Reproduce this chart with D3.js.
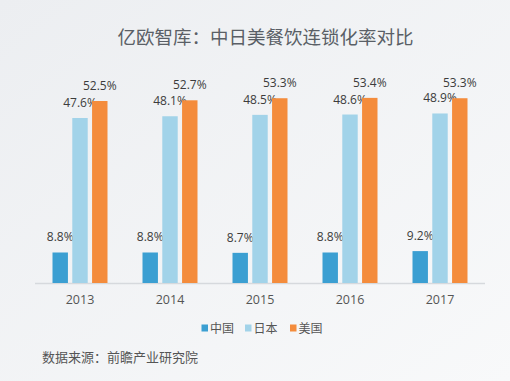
<!DOCTYPE html>
<html><head><meta charset="utf-8">
<script src="https://cdn.jsdelivr.net/npm/d3@7"></script>
<style>html,body{margin:0;padding:0;}svg{display:block;}</style>
</head><body>
<svg id="c" width="510" height="381"></svg>
<script>
const years = ["2013","2014","2015","2016","2017"];
const seriesNames = ["中国","日本","美国"];
const china = [8.8, 8.8, 8.7, 8.8, 9.2];
const japan = [47.6, 48.1, 48.5, 48.6, 48.9];
const usa = [52.5, 52.7, 53.3, 53.4, 53.3];
const colors = ["#3b9fd2", "#a2d3e9", "#f48c3c"];
const title = "亿欧智库：中日美餐饮连锁化率对比";
const source = "数据来源：前瞻产业研究院";

const series = [china, japan, usa];
const font = "'Noto Sans CJK SC','Noto Sans',sans-serif";
const numFont = "'Open Sans','Noto Sans',sans-serif";
const svg = d3.select("#c");

const defs = svg.append("defs");
const g = defs.append("linearGradient").attr("id","bg").attr("x1","0").attr("y1","0").attr("x2","1").attr("y2","1");
g.append("stop").attr("offset","0").attr("stop-color","#eceef1");
g.append("stop").attr("offset","1").attr("stop-color","#f8f9fa");
svg.append("rect").attr("width",510).attr("height",381).attr("fill","url(#bg)");

svg.append("text").attr("x",265.5).attr("y",44).attr("text-anchor","middle")
  .attr("font-family",font).attr("font-size",18.5).attr("fill","#5a5f66").text(title);

const left = 35, right = 485, base = 283;
const x0 = d3.scaleBand().domain(years).range([left,right]).paddingInner(0).paddingOuter(0);
const x1 = d3.scaleBand().domain(seriesNames).range([x0.bandwidth()/2-27.5, x0.bandwidth()/2+27.5]).paddingInner(0.22).paddingOuter(0);
const y = d3.scaleLinear().domain([0,60]).range([base, base-208]);

svg.append("line").attr("x1",left).attr("x2",right).attr("y1",base+0.5).attr("y2",base+0.5)
  .attr("stroke","#d6d9dd").attr("stroke-width",1.5);

const groups = svg.selectAll("g.yr").data(years).join("g").attr("class","yr")
  .attr("transform",d=>`translate(${x0(d)},0)`);

seriesNames.forEach((s,si)=>{
  groups.append("rect")
    .attr("x",x1(s)).attr("width",x1.bandwidth())
    .attr("y",(d,i)=>y(series[si][i])).attr("height",(d,i)=>base-y(series[si][i]))
    .attr("fill",colors[si]);
  groups.append("text")
    .attr("x",x1(s)+x1.bandwidth()/2).attr("y",(d,i)=>y(series[si][i])-11)
    .attr("text-anchor","middle").attr("font-family",numFont).attr("font-size",12)
    .attr("fill","#3c3c3c").text((d,i)=>series[si][i].toFixed(1)+"%");
});

const xAxis = d3.axisBottom(x0).tickSize(0).tickPadding(0);
const ax = svg.append("g").attr("transform",`translate(0,${base})`).call(xAxis);
ax.select(".domain").remove();
ax.selectAll("text").attr("dy",null).attr("y",21).attr("font-family",numFont).attr("font-size",12.5).attr("fill","#555");

const legendX = [201.5, 245, 290];
const lg = svg.selectAll("g.lg").data(seriesNames).join("g").attr("class","lg")
  .attr("transform",(d,i)=>`translate(${legendX[i]},328)`);
lg.append("rect").attr("x",0).attr("y",-3.5).attr("width",6.5).attr("height",7).attr("fill",(d,i)=>colors[i]);
lg.append("text").attr("x",8.5).attr("y",4.5).attr("font-family",font).attr("font-size",12)
  .attr("fill","#555").text(d=>d);

svg.append("text").attr("x",42).attr("y",362).attr("font-family",font).attr("font-size",13)
  .attr("fill","#555").text(source);
</script>
</body></html>
